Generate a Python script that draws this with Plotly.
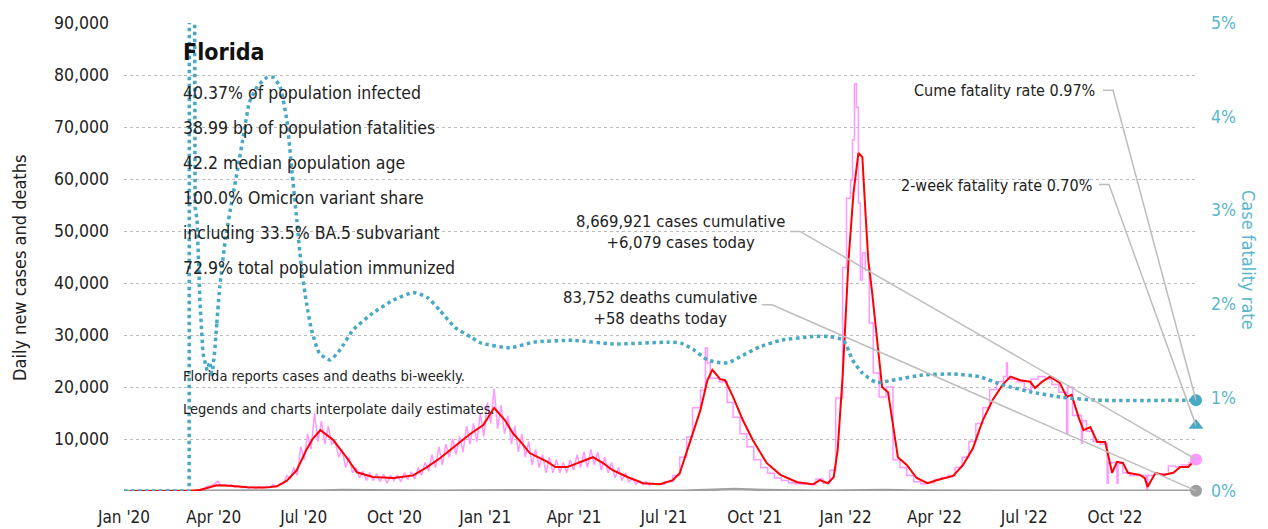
import plotly.graph_objects as go
import pandas as pd

FONT = "DejaVu Sans Condensed, DejaVu Sans, sans-serif"
TEAL = "#47a9c5"
TEAL_TXT = "#5ab6cc"
PINK = "#ff99ff"
RED = "#ff0000"
GRAY = "#a0a0a0"
TXT = "#222222"

# ---------------- data ----------------
red_dates = ["2020-01-07", "2020-03-07", "2020-03-18", "2020-03-28", "2020-04-04", "2020-04-17", "2020-05-05",
             "2020-05-23", "2020-06-04", "2020-06-14", "2020-06-24", "2020-07-04", "2020-07-10", "2020-07-18",
             "2020-07-31", "2020-08-14", "2020-08-24", "2020-09-09", "2020-09-30", "2020-10-20", "2020-11-03",
             "2020-11-16", "2020-11-29", "2020-12-17", "2020-12-30", "2021-01-10", "2021-01-21", "2021-01-29",
             "2021-02-07", "2021-02-15", "2021-03-05", "2021-03-13", "2021-03-25", "2021-04-07", "2021-04-20",
             "2021-04-30", "2021-05-10", "2021-05-25", "2021-06-10", "2021-06-27", "2021-07-10", "2021-07-17",
             "2021-07-27", "2021-08-07", "2021-08-14", "2021-08-19", "2021-08-27", "2021-09-01", "2021-09-09",
             "2021-09-19", "2021-09-29", "2021-10-13", "2021-10-27", "2021-11-13", "2021-11-29", "2021-12-06",
             "2021-12-14", "2021-12-20", "2021-12-24", "2021-12-29", "2022-01-04", "2022-01-09", "2022-01-14",
             "2022-01-18", "2022-01-21", "2022-01-24", "2022-01-28", "2022-02-02", "2022-02-07", "2022-02-13",
             "2022-02-18", "2022-02-23", "2022-03-04", "2022-03-14", "2022-03-25", "2022-04-04", "2022-04-20",
             "2022-04-30", "2022-05-10", "2022-05-20", "2022-05-30", "2022-06-09", "2022-06-17", "2022-06-27",
             "2022-07-07", "2022-07-12", "2022-07-19", "2022-07-27", "2022-08-06", "2022-08-13", "2022-08-18",
             "2022-08-25", "2022-08-30", "2022-09-06", "2022-09-13", "2022-09-21", "2022-09-28", "2022-10-03",
             "2022-10-09", "2022-10-14", "2022-10-26", "2022-10-31", "2022-11-03", "2022-11-11", "2022-11-19",
             "2022-11-29", "2022-12-06", "2022-12-14", "2022-12-22"]
red_cases = [0, 20, 200, 700, 1100, 1000, 700,
             650, 900, 2000, 4000, 8000, 10000, 11700,
             9800, 6300, 3600, 2700, 2500, 3000, 4600,
             6300, 8200, 11000, 12700, 16000, 13600, 11100,
             9200, 7300, 5600, 4600, 4600, 5600, 6500,
             5400, 4000, 2700, 1500, 1300, 2100, 3400,
             9200, 15600, 21300, 23300, 21500, 21300, 18100,
             13600, 9800, 5400, 3100, 1700, 1300, 2100,
             1500, 2700, 7900, 22000, 44400, 57300, 65000,
             64200, 54000, 44400, 38000, 28500, 20000, 19000,
             12300, 6500, 5000, 2500, 1500, 2100, 2900,
             5000, 8200, 13600, 17500, 20400, 22000, 21300,
             21000, 19800, 21000, 22000, 20800, 18100, 18500,
             14200, 11700, 12300, 9400, 9400, 3500, 5600,
             5400, 3500, 3100, 2500, 800, 3500, 3100,
             3500, 4600, 4600, 6079]

# raw daily cases, early period (daily reporting), one reading every 3.5 days from 2020-03-01
raw_early_start = "2020-03-01"
raw_early_cases = [0, 5, 20, 40, 120, 300, 450, 900, 1000, 1300,
                   1900, 1000, 1300, 900, 1200, 700, 1000, 600, 900, 500,
                   800, 500, 800, 600, 900, 700, 1200, 800, 1500, 1400,
                   3000, 2400, 4500, 3000, 8500, 6000, 11000, 8000, 15000, 9500,
                   13500, 9000, 12500, 9000, 9500, 6500, 8000, 4500, 6500, 3500,
                   4500, 2500, 3800, 2000, 3500, 2000, 3300, 1800, 3200, 1500,
                   3000, 2000, 3000, 1800, 3500, 2200, 3700, 2300, 4500, 3000,
                   5500, 3800, 7000, 4500, 8500, 5000, 9000, 6500, 10000, 7000,
                   10500, 7500, 12500, 9000, 13000, 9500, 15000, 10500, 17000, 13000,
                   19700, 12000, 16500, 11000, 14500, 9000, 12500, 7500, 11000, 6500,
                   9500, 5000, 8000, 4500, 7000, 3500, 6500, 3500, 6000, 3500,
                   5500, 3500, 6000, 4000, 7000, 4500, 7500, 4500, 8000, 5000,
                   7500, 4000, 6500, 3500, 5500, 2500, 4500, 2000, 3500, 1700,
                   2500, 1300, 2000, 1200, 1800, 1100, 1500, 1200]

# raw cases, later period (weekly / bi-weekly reporting, shown as steps)
raw_late_dates = ["2021-06-23", "2021-07-02", "2021-07-10", "2021-07-17", "2021-07-24", "2021-07-30", "2021-08-07",
                  "2021-08-12", "2021-08-14", "2021-08-17", "2021-08-26", "2021-09-03", "2021-09-09", "2021-09-16",
                  "2021-09-23", "2021-09-30", "2021-10-07", "2021-10-14", "2021-10-21", "2021-10-28", "2021-11-04",
                  "2021-11-11", "2021-11-18", "2021-11-25", "2021-12-02", "2021-12-09", "2021-12-16", "2021-12-22",
                  "2021-12-29", "2022-01-02", "2022-01-06", "2022-01-08", "2022-01-10", "2022-01-12", "2022-01-14",
                  "2022-01-16", "2022-01-18", "2022-01-21", "2022-01-25", "2022-01-29", "2022-02-04", "2022-02-11",
                  "2022-02-18", "2022-02-25", "2022-03-04", "2022-03-11", "2022-03-18", "2022-03-25", "2022-04-01",
                  "2022-04-08", "2022-04-15", "2022-04-22", "2022-04-29", "2022-05-06", "2022-05-13", "2022-05-20",
                  "2022-05-27", "2022-06-03", "2022-06-10", "2022-06-13", "2022-06-14", "2022-06-24", "2022-07-01",
                  "2022-07-08", "2022-07-15", "2022-07-22", "2022-07-29", "2022-08-05", "2022-08-13", "2022-08-14",
                  "2022-08-19", "2022-08-28", "2022-08-29", "2022-09-02", "2022-09-09", "2022-09-16", "2022-09-23",
                  "2022-09-24", "2022-10-03", "2022-10-04", "2022-10-09", "2022-10-16", "2022-11-02", "2022-11-03",
                  "2022-11-10", "2022-11-17", "2022-11-24", "2022-12-01", "2022-12-08", "2022-12-15", "2022-12-22"]
raw_late_cases = [1300, 1800, 3000, 6500, 10400, 16000, 19400,
                  27500, 24600, 21700, 21000, 17000, 14200, 11000,
                  8500, 6000, 4500, 3400, 2500, 2000, 1600,
                  1400, 1300, 1200, 2300, 1500, 4000, 17900,
                  43000, 56300, 59800, 67500, 78300, 73800, 55400,
                  40600, 45800, 42500, 32300, 22700, 18100, 20000,
                  6000, 4500, 3000, 1800, 1400, 1600, 2200,
                  2600, 3000, 4500, 6500, 9500, 13000, 16000,
                  19500, 21000, 22000, 24600, 21500, 21000, 19500,
                  21500, 22000, 21500, 20500, 19000, 11100, 20000,
                  14500, 9200, 13500, 11500, 9500, 9000, 1500,
                  5500, 1500, 5300, 3500, 3000, 300, 3000,
                  3300, 3300, 4800, 4600, 5000, 5500, 6079]

death_dates = ["2020-01-01", "2020-03-15", "2020-04-10", "2020-05-10", "2020-06-10", "2020-07-20", "2020-08-10",
               "2020-09-10", "2020-10-10", "2020-11-10", "2020-12-10", "2021-01-20", "2021-02-20", "2021-03-20",
               "2021-04-20", "2021-05-20", "2021-06-20", "2021-07-20", "2021-08-20", "2021-09-10", "2021-10-10",
               "2021-11-10", "2021-12-10", "2022-01-20", "2022-02-10", "2022-03-10", "2022-04-10", "2022-05-10",
               "2022-06-10", "2022-07-20", "2022-08-20", "2022-09-20", "2022-10-20", "2022-11-20", "2022-12-22"]
deaths = [0, 2, 50, 40, 35, 120, 180,
          100, 70, 60, 100, 160, 140, 80,
          60, 50, 40, 60, 250, 380, 200,
          50, 30, 150, 200, 80, 30, 25,
          40, 60, 70, 60, 50, 40, 58]

cfr_dates = ["2020-01-01", "2020-03-07", "2020-03-08", "2020-03-12", "2020-03-13", "2020-03-15", "2020-03-18",
             "2020-03-21", "2020-03-25", "2020-03-28", "2020-03-30", "2020-04-02", "2020-04-04", "2020-04-07",
             "2020-04-13", "2020-04-20", "2020-04-25", "2020-05-02", "2020-05-07", "2020-05-15", "2020-05-25",
             "2020-05-31", "2020-06-07", "2020-06-14", "2020-06-19", "2020-06-24", "2020-06-29", "2020-07-04",
             "2020-07-09", "2020-07-17", "2020-07-28", "2020-08-07", "2020-08-20", "2020-09-09", "2020-09-30",
             "2020-10-20", "2020-11-03", "2020-11-16", "2020-12-01", "2020-12-18", "2020-12-28", "2021-01-26",
             "2021-02-19", "2021-03-31", "2021-05-11", "2021-07-05", "2021-07-18", "2021-07-31", "2021-08-14",
             "2021-08-27", "2021-09-04", "2021-09-19", "2021-10-06", "2021-10-27", "2021-11-29", "2021-12-16",
             "2021-12-30", "2022-01-08", "2022-01-18", "2022-02-01", "2022-02-21", "2022-03-20", "2022-04-20",
             "2022-05-17", "2022-06-10", "2022-07-07", "2022-08-09", "2022-09-13", "2022-12-22"]
cfr_pct = [0, 0, 30, 30, 3.03, 2.9, 2.0,
           1.47, 1.29, 1.38, 1.22, 1.5, 1.79, 2.18,
           2.71, 3.14, 3.43, 3.86, 4.15, 4.32, 4.42,
           4.42, 4.32, 3.96, 3.43, 2.90, 2.36, 2.00,
           1.72, 1.47, 1.40, 1.51, 1.72, 1.90, 2.04,
           2.12, 2.07, 1.93, 1.75, 1.64, 1.58, 1.53,
           1.59, 1.61, 1.57, 1.59, 1.58, 1.51, 1.40,
           1.37, 1.37, 1.45, 1.54, 1.61, 1.65, 1.65,
           1.61, 1.40, 1.26, 1.16, 1.19, 1.24, 1.25,
           1.22, 1.13, 1.06, 1.00, 0.97, 0.97]

last_date = "2022-12-22"
cume_cfr = 0.97
two_week_cfr = 0.70
cases_today = 6079
deaths_today = 58

left_ticks = [10000, 20000, 30000, 40000, 50000, 60000, 70000, 80000, 90000]
right_ticks = [0, 1, 2, 3, 4, 5]

title_text = "Florida"
stat_lines = ["40.37% of population infected", "38.99 bp of population fatalities",
              "42.2 median population age", "100.0% Omicron variant share",
              "including 33.5% BA.5 subvariant", "72.9% total population immunized"]
note_lines = ["Florida reports cases and deaths bi-weekly.",
              "Legends and charts interpolate daily estimates."]
cases_label = "8,669,921 cases cumulative<br>+6,079 cases today"
deaths_label = "83,752 deaths cumulative<br>+58 deaths today"
cume_label = "Cume fatality rate 0.97%"
twoweek_label = "2-week fatality rate 0.70%"

# ---------------- figure ----------------
raw_early_dates = pd.date_range(raw_early_start, periods=len(raw_early_cases), freq="84h")
split = cfr_dates.index("2020-04-04")

fig = go.Figure()
fig.add_trace(go.Scatter(x=raw_early_dates, y=raw_early_cases, mode="lines",
                         line=dict(color=PINK, width=1.5), hoverinfo="skip", showlegend=False))
fig.add_trace(go.Scatter(x=raw_late_dates, y=raw_late_cases, mode="lines",
                         line=dict(color=PINK, width=1.5, shape="hv"), hoverinfo="skip", showlegend=False))
fig.add_trace(go.Scatter(x=death_dates, y=deaths, mode="lines",
                         line=dict(color=GRAY, width=2.5), showlegend=False))
fig.add_trace(go.Scatter(x=red_dates, y=red_cases, mode="lines",
                         line=dict(color=RED, width=2), showlegend=False))
fig.add_trace(go.Scatter(x=cfr_dates[:split + 1], y=cfr_pct[:split + 1], yaxis="y2", mode="lines",
                         line=dict(color=TEAL, width=3.5, dash="dot"), showlegend=False))
fig.add_trace(go.Scatter(x=cfr_dates[split:], y=cfr_pct[split:], yaxis="y2", mode="lines",
                         line=dict(color=TEAL, width=3.5, dash="dot", shape="spline", smoothing=0.5),
                         showlegend=False))

# end markers
fig.add_trace(go.Scatter(x=[last_date], y=[cume_cfr], yaxis="y2", mode="markers",
                         marker=dict(color=TEAL, size=12, symbol="circle"), cliponaxis=False, showlegend=False))
fig.add_trace(go.Scatter(x=[last_date], y=[two_week_cfr], yaxis="y2", mode="markers",
                         marker=dict(color=TEAL, size=13, symbol="triangle-up"), cliponaxis=False, showlegend=False))
fig.add_trace(go.Scatter(x=[last_date], y=[cases_today], mode="markers",
                         marker=dict(color=PINK, size=12, symbol="circle"), cliponaxis=False, showlegend=False))
fig.add_trace(go.Scatter(x=[last_date], y=[deaths_today], mode="markers",
                         marker=dict(color=GRAY, size=12, symbol="circle"), cliponaxis=False, showlegend=False))

# leader lines (pixel offsets relative to end markers)
LEAD = dict(color="#bdbdbd", width=1.5)
leaders = [
    ("y2", cume_cfr, "M -93,310 L -83,310 L 0,0"),
    ("y2", two_week_cfr, "M -97,241 L -87,241 L 0,0"),
    ("y", cases_today, "M -406,228 L -396,228 L 0,0"),
    ("y", deaths_today, "M -434,186 L -424,186 L 0,0"),
]
for yref, yv, path in leaders:
    fig.add_shape(type="path", xref="x", yref=yref, xsizemode="pixel", ysizemode="pixel",
                  xanchor=last_date, yanchor=yv, path=path, line=LEAD, layer="above")

ann = []
PX0, PW, PY0, PH = 124, 1072, 491, 468
def px(x):
    return (x - PX0) / PW
def py(y):
    return (PY0 - y) / PH

ann.append(dict(text=title_text, x=px(181), y=py(52), xanchor="left", yanchor="middle",
                font=dict(size=23, color="#111", weight="bold")))
for i, s in enumerate(stat_lines):
    ann.append(dict(text=s, x=px(181), y=py(93 + 35 * i), xanchor="left", yanchor="middle",
                    font=dict(size=17.5, color=TXT)))
for i, s in enumerate(note_lines):
    ann.append(dict(text=s, x=px(181), y=py(376 + 33 * i), xanchor="left", yanchor="middle",
                    font=dict(size=14.5, color=TXT)))
ann.append(dict(text=cume_label, x=px(1097), y=py(90), xanchor="right", yanchor="middle",
                font=dict(size=16, color=TXT)))
ann.append(dict(text=twoweek_label, x=px(1094), y=py(185), xanchor="right", yanchor="middle",
                font=dict(size=16, color=TXT)))
ann.append(dict(text=cases_label, x=px(680), y=py(232), xanchor="center", yanchor="middle", align="center",
                font=dict(size=16.5, color=TXT)))
ann.append(dict(text=deaths_label, x=px(660), y=py(308), xanchor="center", yanchor="middle", align="center",
                font=dict(size=16.5, color=TXT)))
ann.append(dict(text="Daily new cases and deaths", x=px(19), y=py(268), textangle=-90,
                xanchor="center", yanchor="middle", font=dict(size=18, color=TXT)))
ann.append(dict(text="Case fatality rate", x=px(1249), y=py(260), textangle=90,
                xanchor="center", yanchor="middle", font=dict(size=18, color=TEAL_TXT)))
for a in ann:
    a.update(xref="paper", yref="paper", showarrow=False)

# the page body adds an 8px offset; margins compensate so the plot area sits at (124..1196, 23..491)
fig.update_layout(
    width=1268, height=529,
    margin=dict(l=116, r=80, t=15, b=46, autoexpand=False),
    paper_bgcolor="white", plot_bgcolor="white",
    font=dict(family=FONT, color=TXT, size=17.5),
    showlegend=False,
    annotations=ann,
    xaxis=dict(type="date", range=["2020-01-01", last_date], tick0="2020-01-01", dtick="M3",
               tickformat="%b '%y", showgrid=False, zeroline=False, showline=False, ticks="",
               automargin=False, tickfont=dict(size=17, color=TXT), ticklabelstandoff=14),
    yaxis=dict(range=[0, 90000], tickvals=left_ticks, ticktext=[f"{v:,}" for v in left_ticks],
               showgrid=True, gridcolor="#bbbbbb", griddash="dot", gridwidth=1, zeroline=False,
               showline=False, ticks="", automargin=False,
               tickfont=dict(size=17.5, color=TXT), ticklabelstandoff=14),
    yaxis2=dict(range=[0, 5], overlaying="y", side="right", tickvals=right_ticks,
                ticktext=[f"{v}%" for v in right_ticks], showgrid=False, zeroline=False, showline=False,
                ticks="", automargin=False, tickfont=dict(size=17.5, color=TEAL_TXT), ticklabelstandoff=14),
)

fig.write_html("out.html")
